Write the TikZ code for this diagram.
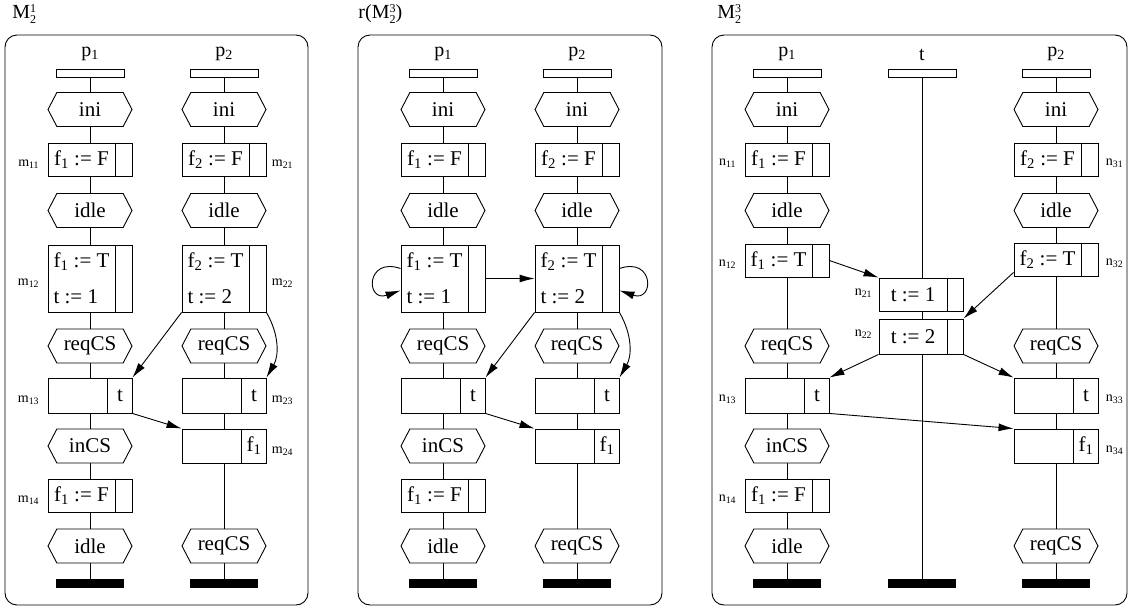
\documentclass[tikz,border=0pt]{standalone}
\usepackage{fontspec}
\setmainfont{Liberation Serif}
\usetikzlibrary{shapes.symbols, arrows.meta, positioning, calc, backgrounds}

\newcommand\boxfont{\fontsize{21}{36}\selectfont}
\newcommand\labfont{\fontsize{14}{16}\selectfont}
\newcommand\headfont{\fontsize{20}{22}\selectfont}
% stacked superscript over subscript
\newcommand\supsub[2]{\raisebox{-0.55ex}{\fontsize{12}{10}\selectfont\shortstack[l]{#1\\#2}}}

\tikzset{
  head/.style={draw, fill=white, minimum width=68pt, minimum height=8pt, inner sep=0pt},
  stopbar/.style={fill=black, minimum width=68pt, minimum height=9pt, inner sep=0pt},
  state/.style={signal, signal to=west and east, signal pointer angle=125, draw, fill=white,
    minimum width=84pt, minimum height=34pt, inner sep=0pt, font=\boxfont},
  act/.style={draw, fill=white, minimum width=84pt, minimum height=33pt, inner sep=0pt},
  lab/.style={font=\labfont, inner sep=0pt},
  msg/.style={-{Latex[length=15pt,width=8pt]}},
  frame/.style={rounded corners=12pt},
}

% \actbox{name}{position}{height}{text}{cell width}{cell text}
\newcommand\actbox[6]{%
  \node[act, minimum height=#3] (#1) at (#2) {};
  \draw ([xshift=-#5]#1.north east) -- ([xshift=-#5]#1.south east);
  \node[font=\boxfont, align=left, inner sep=0pt] (#1-l) at ($(#1.west)!0.5!([xshift=-#5]#1.east)$) {#4};
  \node[font=\boxfont, inner sep=0pt] (#1-r) at ([xshift=-#5/2]#1.east) {#6};
}

\begin{document}
\begin{tikzpicture}[x=1pt, y=-1pt, line width=0.9pt]
  \useasboundingbox (0,0) rectangle (1128,611);

  % frames and titles
  \draw[frame] (5,35) rectangle (308,605);
  \draw[frame] (358,35) rectangle (662,605);
  \draw[frame] (712,35) rectangle (1127,605);
  \node[font=\headfont, anchor=west, inner sep=0pt] (title1) at (12,14) {M\supsub{1}{2}};
  \node[font=\headfont, anchor=west, inner sep=0pt] (title2) at (358,14) {r(M\supsub{3}{2})};
  \node[font=\headfont, anchor=west, inner sep=0pt] (title3) at (717,14) {M\supsub{3}{2}};

  % the two charts with processes p1 and p2 only
  \foreach \dx/\pn in {0/a,353/b}{
    % process p1
    \node[head] (\pn-h1) at (90+\dx,73) {};
    \node[font=\headfont, above=4pt of \pn-h1] (\pn-p1) {p\textsubscript{1}};
    \node[state] (\pn-s11) at (90+\dx,109.5) {ini};
    \actbox{\pn-a11}{90+\dx,159.5}{33pt}{f\textsubscript{1} := F}{17pt}{}
    \node[state] (\pn-s12) at (90+\dx,210.5) {idle};
    \actbox{\pn-a12}{90+\dx,278.5}{67pt}{f\textsubscript{1} := T\\t := 1}{17pt}{}
    \node[state] (\pn-s13) at (90+\dx,346) {reqCS};
    \actbox{\pn-a13}{90+\dx,395.5}{35pt}{}{25pt}{t}
    \node[state] (\pn-s14) at (90+\dx,446) {inCS};
    \actbox{\pn-a14}{90+\dx,495.5}{33pt}{f\textsubscript{1} := F}{17pt}{}
    \node[state] (\pn-s15) at (90+\dx,546) {idle};
    \node[stopbar] (\pn-e1) at (90+\dx,583.5) {};
    % process p2
    \node[head] (\pn-h2) at (224+\dx,73) {};
    \node[font=\headfont, above=4pt of \pn-h2] (\pn-p2) {p\textsubscript{2}};
    \node[state] (\pn-s21) at (224+\dx,109.5) {ini};
    \actbox{\pn-a21}{224+\dx,159.5}{33pt}{f\textsubscript{2} := F}{17pt}{}
    \node[state] (\pn-s22) at (224+\dx,210.5) {idle};
    \actbox{\pn-a22}{224+\dx,278.5}{67pt}{f\textsubscript{2} := T\\t := 2}{17pt}{}
    \node[state] (\pn-s23) at (224+\dx,346) {reqCS};
    \actbox{\pn-a23}{224+\dx,395.5}{35pt}{}{25pt}{t}
    \actbox{\pn-a24}{224+\dx,446}{34pt}{}{25pt}{f\textsubscript{1}}
    \node[state] (\pn-s24) at (224+\dx,546) {reqCS};
    \node[stopbar] (\pn-e2) at (224+\dx,583.5) {};
    \begin{scope}[on background layer]
      \draw (\pn-h1) -- (\pn-e1);
      \draw (\pn-h2) -- (\pn-e2);
    \end{scope}
    % messages
    \draw[msg] (\pn-a22.south west) -- (\pn-a13.north east);
    \draw[msg] (\pn-a22.south east) to[bend left=30] (\pn-a23.north east);
    \draw[msg] (\pn-a13.south east) -- (\pn-a24.north west);
  }

  % names in M21
  \node[lab, left=8pt of a-a11, yshift=-5pt] (m11) {m\textsubscript{11}};
  \node[lab, left=8pt of a-a12, yshift=-5pt] (m12) {m\textsubscript{12}};
  \node[lab, left=8pt of a-a13, yshift=-5pt] (m13) {m\textsubscript{13}};
  \node[lab, left=8pt of a-a14, yshift=-5pt] (m14) {m\textsubscript{14}};
  \node[lab, right=5pt of a-a21, yshift=-5pt] (m21) {m\textsubscript{21}};
  \node[lab, right=5pt of a-a22, yshift=-5pt] (m22) {m\textsubscript{22}};
  \node[lab, right=5pt of a-a23, yshift=-5pt] (m23) {m\textsubscript{23}};
  \node[lab, right=5pt of a-a24, yshift=-5pt] (m24) {m\textsubscript{24}};

  % extra messages of r(M23)
  \draw[msg] (b-a12.east) -- (b-a22.west);
  \draw[msg] ([yshift=10pt]b-a12.west) .. controls +(-35,-12) and +(-35,12) .. ([yshift=-12pt]b-a12.west);
  \draw[msg] ([yshift=10pt]b-a22.east) .. controls +(35,-12) and +(35,12) .. ([yshift=-12pt]b-a22.east);

  % M23: process p1
  \node[head] (c-h1) at (787,73) {};
  \node[font=\headfont, above=4pt of c-h1] (c-p1) {p\textsubscript{1}};
  \node[state] (c-s11) at (787,109.5) {ini};
  \actbox{c-a11}{787,159.5}{33pt}{f\textsubscript{1} := F}{17pt}{}
  \node[state] (c-s12) at (787,210.5) {idle};
  \actbox{c-a12}{787,260.5}{33pt}{f\textsubscript{1} := T}{17pt}{}
  \node[state] (c-s13) at (787,346) {reqCS};
  \actbox{c-a13}{787,395.5}{35pt}{}{25pt}{t}
  \node[state] (c-s14) at (787,446) {inCS};
  \actbox{c-a14}{787,495.5}{33pt}{f\textsubscript{1} := F}{17pt}{}
  \node[state] (c-s15) at (787,546) {idle};
  \node[stopbar] (c-e1) at (787,583.5) {};
  % process t
  \node[head] (c-h2) at (922,73) {};
  \node[font=\headfont, above=4pt of c-h2] (c-pt) {t};
  \actbox{c-a21}{921,294.5}{33pt}{t := 1}{16pt}{}
  \actbox{c-a22}{921,336.5}{35pt}{t := 2}{16pt}{}
  \node[stopbar] (c-e2) at (922,583.5) {};
  % process p2
  \node[head] (c-h3) at (1056,73) {};
  \node[font=\headfont, above=4pt of c-h3] (c-p2) {p\textsubscript{2}};
  \node[state] (c-s31) at (1056,109.5) {ini};
  \actbox{c-a31}{1056,159.5}{33pt}{f\textsubscript{2} := F}{17pt}{}
  \node[state] (c-s32) at (1056,210.5) {idle};
  \actbox{c-a32}{1056,259.5}{33pt}{f\textsubscript{2} := T}{17pt}{}
  \node[state] (c-s33) at (1056,346) {reqCS};
  \actbox{c-a33}{1056,395.5}{35pt}{}{25pt}{t}
  \actbox{c-a34}{1056,446}{34pt}{}{25pt}{f\textsubscript{1}}
  \node[state] (c-s34) at (1056,546) {reqCS};
  \node[stopbar] (c-e3) at (1056,583.5) {};
  \begin{scope}[on background layer]
    \draw (c-h1) -- (c-e1);
    \draw (c-h2) -- (c-e2);
    \draw (c-h3) -- (c-e3);
  \end{scope}

  % names in M23
  \node[lab, left=8pt of c-a11, yshift=-4pt] (n11) {n\textsubscript{11}};
  \node[lab, left=8pt of c-a12, yshift=-4pt] (n12) {n\textsubscript{12}};
  \node[lab, left=8pt of c-a13, yshift=-4pt] (n13) {n\textsubscript{13}};
  \node[lab, left=8pt of c-a14, yshift=-4pt] (n14) {n\textsubscript{14}};
  \node[lab, left=6pt of c-a21, yshift=1pt] (n21) {n\textsubscript{21}};
  \node[lab, left=6pt of c-a22, yshift=2pt] (n22) {n\textsubscript{22}};
  \node[lab, right=7pt of c-a31, yshift=-4pt] (n31) {n\textsubscript{31}};
  \node[lab, right=7pt of c-a32, yshift=-4pt] (n32) {n\textsubscript{32}};
  \node[lab, right=7pt of c-a33, yshift=-4pt] (n33) {n\textsubscript{33}};
  \node[lab, right=7pt of c-a34, yshift=-4pt] (n34) {n\textsubscript{34}};

  % messages of M23
  \draw[msg] (c-a12.east) -- (c-a21.north west);
  \draw[msg] ([yshift=4pt]c-a32.south west) -- (c-a22.north east);
  \draw[msg] (c-a22.south west) -- (c-a13.north east);
  \draw[msg] (c-a22.south east) -- (c-a33.north west);
  \draw[msg] (c-a13.south east) -- (c-a34.north west);
\end{tikzpicture}
\end{document}
